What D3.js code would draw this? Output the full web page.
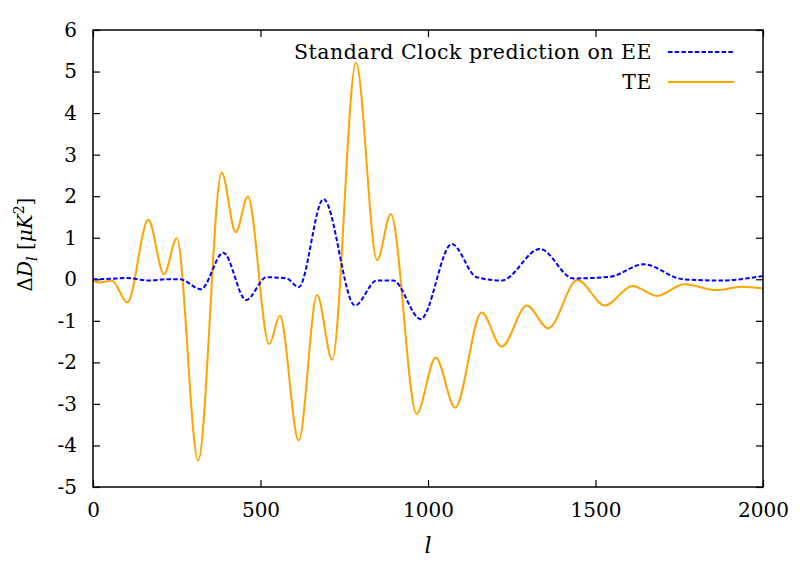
<!DOCTYPE html>
<html>
<head>
<meta charset="utf-8">
<script src="https://cdn.jsdelivr.net/npm/d3@7"></script>
<style>
  body { margin: 0; background: #fff; }
  svg text { font-family: "DejaVu Serif", "Liberation Serif", serif; fill: #000; }
</style>
</head>
<body>
<div id="container"></div>
<script>
// multipole values and Delta D_l (extrema + plateaus)
var ellEE = [0, 50, 100, 165, 220, 260, 322, 389, 457, 518, 578, 614, 688, 782, 847, 896, 978, 1071, 1145, 1220, 1334, 1434, 1543, 1643, 1762, 1872, 2000];
var dlEE  = [0, 0.01, 0.03, -0.03, 0, 0, -0.24, 0.64, -0.50, 0.05, 0.02, -0.19, 1.93, -0.63, -0.03, -0.03, -0.96, 0.85, 0.05, -0.03, 0.73, 0.02, 0.06, 0.36, 0, -0.03, 0.08];

var ellTE = [0, 20, 56, 103, 165, 212, 250, 314, 384, 426, 462, 526, 558, 614, 669, 714, 785, 848, 889, 966, 1023, 1081, 1160, 1220, 1295, 1359, 1446, 1528, 1611, 1683, 1765, 1862, 1936, 2000];
var dlTE  = [-0.03, -0.08, -0.03, -0.56, 1.43, 0.12, 0.99, -4.37, 2.57, 1.13, 1.99, -1.56, -0.88, -3.88, -0.38, -1.94, 5.21, 0.46, 1.57, -3.24, -1.88, -3.09, -0.80, -1.62, -0.63, -1.18, -0.02, -0.63, -0.16, -0.40, -0.12, -0.26, -0.18, -0.22];

var xTicks = [0, 500, 1000, 1500, 2000];
var yTicks = [-5, -4, -3, -2, -1, 0, 1, 2, 3, 4, 5, 6];

var seriesNames = ["Standard Clock prediction on EE", "TE"];

// 1. margins
var margin = {top: 30, right: 46, bottom: 80, left: 93},
    width = 809 - margin.left - margin.right,
    height = 567 - margin.top - margin.bottom;

var svg = d3.select("#container")
  .append("svg")
    .attr("width", 809)
    .attr("height", 567)
  .append("g")
    .attr("transform", "translate(" + margin.left + "," + margin.top + ")");

// 2. scales
var x = d3.scaleLinear().domain([0, 2000]).range([0, width]);
var y = d3.scaleLinear().domain([-5, 6]).range([height, 0]);

// plain integers with an ASCII hyphen, like gnuplot
var fmt = function(d) { return String(d); };

var line = d3.line()
    .x(function(d) { return x(d[0]); })
    .y(function(d) { return y(d[1]); })
    .curve(d3.curveMonotoneX);

var ee = ellEE.map(function(l, i) { return [l, dlEE[i]]; });
var te = ellTE.map(function(l, i) { return [l, dlTE[i]]; });

// 3. axes (gnuplot style: inward ticks, mirrored)
var tick = 7;
svg.append("g")
    .attr("transform", "translate(0," + height + ")")
    .call(d3.axisBottom(x).tickValues(xTicks).tickFormat(fmt).tickSizeInner(-tick).tickSizeOuter(0).tickPadding(16))
    .call(function(g) { g.select(".domain").remove(); });
svg.append("g")
    .call(d3.axisTop(x).tickValues(xTicks).tickSizeInner(-tick).tickSizeOuter(0).tickFormat(""))
    .call(function(g) { g.select(".domain").remove(); });
svg.append("g")
    .call(d3.axisLeft(y).tickValues(yTicks).tickFormat(fmt).tickSizeInner(-tick).tickSizeOuter(0).tickPadding(16))
    .call(function(g) { g.select(".domain").remove(); });
svg.append("g")
    .attr("transform", "translate(" + width + ",0)")
    .call(d3.axisRight(y).tickValues(yTicks).tickSizeInner(-tick).tickSizeOuter(0).tickFormat(""))
    .call(function(g) { g.select(".domain").remove(); });

svg.selectAll(".tick line").attr("stroke", "#000").attr("stroke-width", 1.2);
svg.selectAll(".tick text").style("font-size", "20px");

// 4. lines
svg.append("path")
    .datum(te)
    .attr("fill", "none")
    .attr("stroke", "#ffa500")
    .attr("stroke-width", 2)
    .attr("d", line);

svg.append("path")
    .datum(ee)
    .attr("fill", "none")
    .attr("stroke", "#0000ff")
    .attr("stroke-width", 2)
    .attr("stroke-dasharray", "4.5,2.2")
    .attr("d", line);

// frame
svg.append("rect")
    .attr("width", width)
    .attr("height", height)
    .attr("fill", "none")
    .attr("stroke", "#000")
    .attr("stroke-width", 1.5);

// 5. legend
var legend = svg.selectAll(".legend")
    .data(seriesNames)
    .enter().append("g")
    .attr("class", "legend")
    .attr("transform", function(d, i) { return "translate(0," + (22 + i * 30) + ")"; });

legend.append("text")
    .attr("x", 559)
    .attr("y", 0)
    .attr("dy", "0.33em")
    .attr("text-anchor", "end")
    .style("font-size", "20.5px")
    .style("letter-spacing", "0.5px")
    .text(function(d) { return d; });

legend.append("line")
    .attr("x1", 575).attr("x2", 641)
    .attr("stroke", function(d, i) { return i == 0 ? "#0000ff" : "#ffa500"; })
    .attr("stroke-width", 2)
    .attr("stroke-dasharray", function(d, i) { return i == 0 ? "4.5,2.2" : null; });

// 6. axis titles
svg.append("text")
    .attr("x", width / 2)
    .attr("y", height + 66)
    .attr("text-anchor", "middle")
    .style("font-size", "22px")
    .style("font-style", "italic")
    .text("l");

var ylab = svg.append("text")
    .attr("transform", "translate(" + (-61) + "," + (height / 2 - 14) + ") rotate(-90)")
    .attr("text-anchor", "middle")
    .style("font-size", "20px");
ylab.append("tspan").text("Δ");
ylab.append("tspan").style("font-style", "italic").text("D");
ylab.append("tspan").style("font-style", "italic").style("font-size", "14px").attr("dy", "5").text("l");
ylab.append("tspan").attr("dy", "-5").text(" [");
ylab.append("tspan").style("font-style", "italic").text("μK");
ylab.append("tspan").style("font-size", "14px").attr("dy", "-8").text("2");
ylab.append("tspan").attr("dy", "8").text("]");
</script>
</body>
</html>
